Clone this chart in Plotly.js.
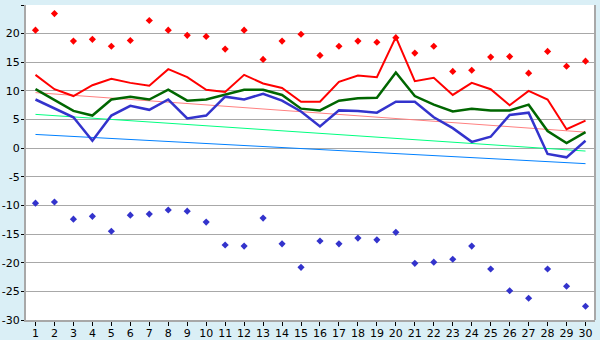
<!DOCTYPE html>
<html><head><meta charset="utf-8">
<script src="https://cdn.plot.ly/plotly-3.0.1.min.js"></script>
<style>html,body{margin:0;padding:0;background:#daeff6;}#chart{width:600px;height:340px;}</style>
</head><body><div id="chart"></div>
<script>
const days = [1,2,3,4,5,6,7,8,9,10,11,12,13,14,15,16,17,18,19,20,21,22,23,24,25,26,27,28,29,30];
const absMax = [20.6,23.5,18.7,19.0,17.8,18.8,22.3,20.6,19.7,19.5,17.3,20.6,15.5,18.7,19.9,16.2,17.8,18.7,18.5,19.3,16.6,17.8,13.4,13.6,15.9,16.0,13.1,16.9,14.3,15.2];
const absMin = [-9.6,-9.4,-12.4,-11.9,-14.5,-11.7,-11.5,-10.8,-11.0,-12.9,-16.9,-17.1,-12.2,-16.7,-20.8,-16.2,-16.7,-15.7,-16.0,-14.7,-20.1,-19.9,-19.4,-17.1,-21.1,-24.9,-26.2,-21.1,-24.1,-27.6];
const meanMax = [12.8,10.3,9.1,11.0,12.1,11.4,10.9,13.8,12.4,10.2,9.8,12.8,11.3,10.5,8.1,8.1,11.6,12.7,12.4,19.4,11.7,12.3,9.3,11.4,10.3,7.5,10.0,8.5,3.3,4.8];
const meanAvg = [10.3,8.4,6.5,5.7,8.5,9.0,8.5,10.2,8.3,8.5,9.3,10.2,10.2,9.3,6.9,6.6,8.3,8.7,8.8,13.2,9.1,7.6,6.4,6.9,6.6,6.6,7.6,3.0,0.9,2.8];
const meanMin = [8.5,7.0,5.4,1.3,5.7,7.4,6.7,8.5,5.2,5.7,9.0,8.5,9.5,8.3,6.4,3.8,6.6,6.5,6.2,8.1,8.1,5.4,3.5,1.1,2.0,5.8,6.2,-1.0,-1.6,1.3];
const trendX = [1,30];
const trendMax = [9.7,2.8];
const trendAvg = [5.9,-0.5];
const trendMin = [2.4,-2.7];
const yTicks = [25,20,15,10,5,0,-5,-10,-15,-20,-25,-30];
const yTickText = ['25','20','15','10','5','0','-5','-10','-15','-20','-25','-30'];

const traces = [
  {x:trendX,y:trendMax,mode:'lines',line:{color:'#ff8080',width:1}},
  {x:trendX,y:trendAvg,mode:'lines',line:{color:'#00ff80',width:1}},
  {x:trendX,y:trendMin,mode:'lines',line:{color:'#0080ff',width:1}},
  {x:days,y:meanMax,mode:'lines',line:{color:'#ff0000',width:2}},
  {x:days,y:meanAvg,mode:'lines',line:{color:'#006600',width:2.5}},
  {x:days,y:meanMin,mode:'lines',line:{color:'#3333cc',width:2.5}},
  {x:days,y:absMax,mode:'markers',marker:{symbol:'diamond',size:5.5,color:'#ff0000'}},
  {x:days,y:absMin,mode:'markers',marker:{symbol:'diamond',size:5.5,color:'#3333cc'}}
];
const layout = {
  width:600,height:340,
  margin:{l:26,r:5,t:5,b:20,pad:0},
  paper_bgcolor:'#daeff6',plot_bgcolor:'#ffffff',
  showlegend:false,
  font:{family:'DejaVu Sans',size:11,color:'#000'},
  xaxis:{range:[0.5,30.5],tickvals:days,ticktext:days.map(String),showgrid:false,zeroline:false,
    showline:true,linecolor:'#a8a8a8',linewidth:2,mirror:false,ticks:'outside',ticklen:4,tickcolor:'#000',tickwidth:1,
    ticklabelstandoff:-2,fixedrange:true},
  yaxis:{range:[-30,25],tickvals:yTicks,ticktext:yTickText,showgrid:true,gridcolor:'#a8a8a8',gridwidth:1,zeroline:false,
    showline:true,linecolor:'#a8a8a8',linewidth:2,ticks:'outside',ticklen:3,tickcolor:'#000',tickwidth:1,
    ticklabelstandoff:-1,fixedrange:true},
  shapes:[{type:'line',xref:'paper',yref:'paper',x0:1,x1:1,y0:0,y1:1,line:{color:'#a8a8a8',width:2}}]
};
Plotly.newPlot('chart',traces,layout,{staticPlot:true});
</script></body></html>
